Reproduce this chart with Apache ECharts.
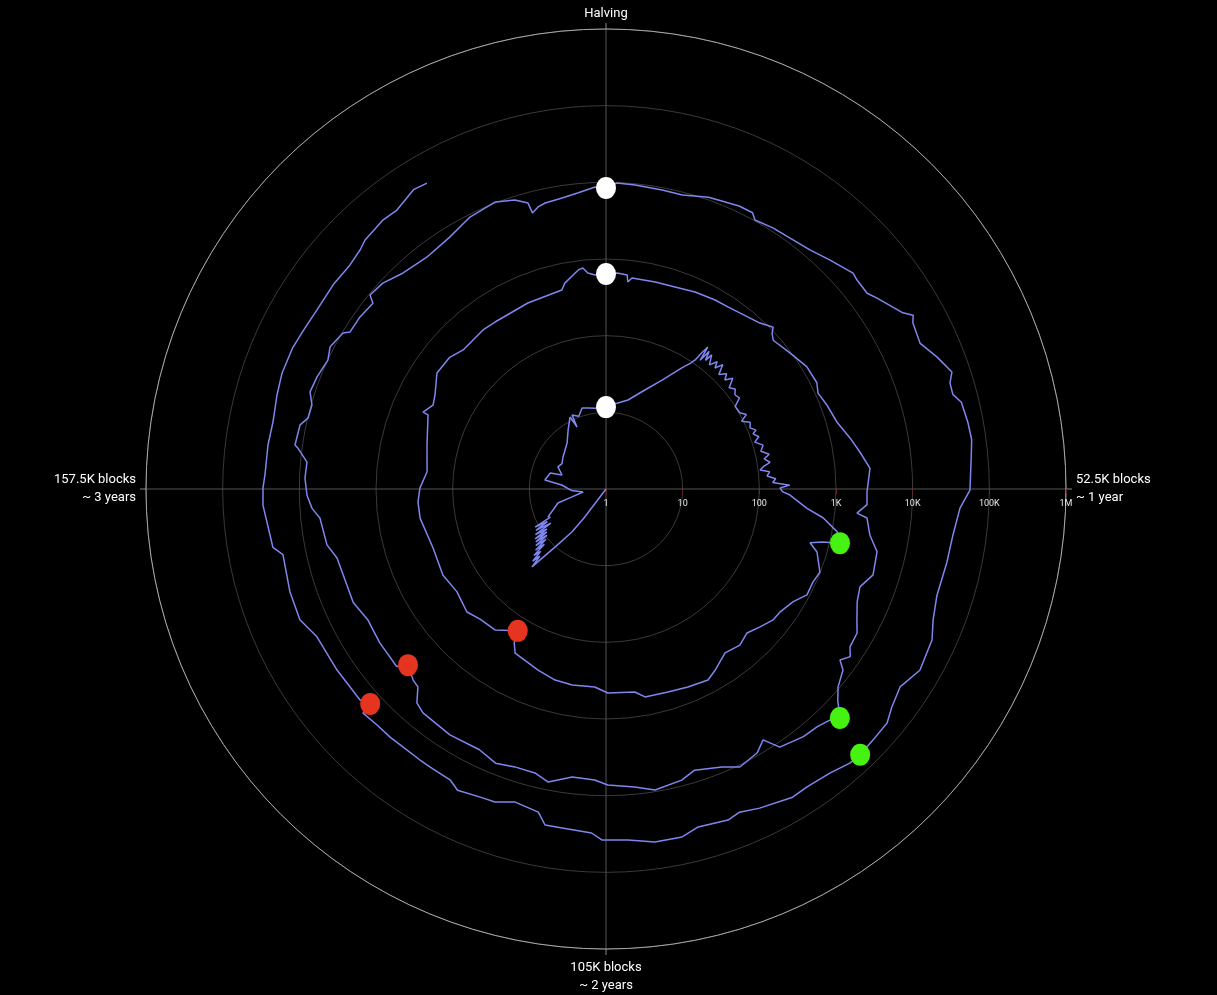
<!DOCTYPE html>
<html><head><meta charset="utf-8">
<style>html,body{margin:0;padding:0;background:#000;}#c{width:1217px;height:995px;}</style>
<script src="https://cdn.jsdelivr.net/npm/echarts@6/dist/echarts.min.js"></script>
</head><body><div id="c"></div>
<script>
// Radial (log) tick labels and angle labels
const radiusTicks = ['1', '10', '100', '1K', '10K', '100K', '1M'];
const angleTicks = [0, 52500, 105000, 157500];
const angleTickLabels = ['Halving', '52.5K blocks\n~ 1 year', '105K blocks\n~ 2 years', '157.5K blocks\n~ 3 years'];

// [blocks since halving, price USD]
const cycle1 = [[126000,1.0],[126700,2.9],[127400,5.2],[129100,10.2],[130400,25.2],[131000,17],[131500,22],[132000,15],[132600,19],[133100,12],[133600,16.5],[134200,10.5],[134800,15],[135300,9.5],[135900,14],[136500,9],[137000,13.5],[137600,8.5],[138300,12.5],[139000,7],[139700,11.5],[140500,7.5],[141000,11.2],[141800,6.5],[142500,6.9],[145000,5.5],[148000,4.5],[149800,2.9],[153200,2.0],[156000,2.8],[160500,3.8],[162400,6.4],[166800,5.7],[167800,4.0],[171900,4.9],[175000,4.6],[178900,5.0],[182500,5.4],[186500,6.1],[190900,8.2],[194500,11.2],[195400,7.8],[195600,11.5],[198000,10.3],[200400,12.6],[203000,12.0],[205500,11.6],[210000,11.7]];
const cycle2 = [[0,11.7],[4600,13.6],[8100,15.7],[12500,24.4],[15900,39.6],[18700,73],[19800,95],[20200,111],[20500,150],[20800,190],[21100,120],[21500,175],[22000,132],[22300,169],[23200,128],[24000,160],[24500,133],[25200,168],[26000,125],[27000,150],[27700,127],[28500,157],[29500,120],[30500,135],[31400,121],[32500,128],[33500,100],[35200,102],[36200,118],[37000,95],[38000,118],[39100,110],[40000,126],[40500,112],[41500,128],[42300,108],[43400,134],[44500,120],[45500,150],[46200,126],[47100,147],[47800,118],[48400,106],[49000,140],[49800,128],[50500,165],[51200,150],[51800,250],[52300,186],[53000,200],[53600,252],[55700,430],[56900,717],[58600,1161],[60100,1358],[60500,820],[61100,565],[62200,745],[64900,986],[66600,913],[68700,917],[70600,708],[73100,601],[74700,587],[76900,498],[79100,425],[81300,481],[84000,439],[86800,570],[88600,667],[91900,624],[95100,587],[98800,575],[100300,473],[104700,458],[106900,386],[110700,393],[113700,379],[117000,333],[121900,280],[123000,216],[123600,151],[127300,219],[130700,230],[133300,264],[137300,230],[141300,254],[146500,242],[152300,285],[155200,287],[157700,267],[160700,221],[165600,254],[170700,327],[170800,388],[172600,322],[174300,351],[177600,472],[180900,463],[183300,399],[188000,419],[190400,412],[196700,428],[202700,455],[203400,548],[205800,759],[206500,791],[207200,671],[208300,624],[210000,637]];
const cycle3 = [[0,637],[1700,662],[3300,637],[3500,519],[4100,593],[7800,595],[11000,609],[14200,661],[17500,702],[19700,721],[21800,768],[25000,897],[26800,1084],[27300,936],[28200,830],[31200,965],[34200,1165],[36900,1202],[38300,1084],[40400,1213],[43100,1371],[45600,1785],[47700,2229],[49900,2844],[52900,2537],[54500,2575],[55700,1942],[56200,2661],[58300,3131],[60100,4255],[62900,4560],[64800,3550],[66600,3900],[68600,4930],[69900,5960],[71700,6190],[72600,7310],[73600,6030],[74300,7760],[76100,9510],[77200,12300],[78400,18600],[79300,15700],[80700,14060],[82500,13500],[85200,11460],[86300,7260],[87600,9250],[90000,10600],[91800,8490],[94800,7000],[96500,8380],[99600,9510],[101800,8040],[104800,7260],[106300,6280],[108900,6060],[111500,7870],[113200,6570],[115600,6530],[117800,7170],[120100,6030],[123900,6300],[127900,5920],[129200,5290],[130400,3640],[131400,3480],[133200,2860],[134000,3800],[136000,3700],[137500,3700],[139300,3560],[140700,3500],[143400,4110],[149100,4190],[150900,5150],[154100,5620],[155300,6960],[156800,7960],[158700,8490],[160500,8240],[161900,11300],[162200,12500],[164400,11950],[165300,9890],[166800,9750],[168100,11560],[169900,11020],[172000,9950],[173400,11170],[175400,9750],[175900,8260],[177900,8240],[180000,7730],[180500,9660],[182400,9120],[184800,7340],[188000,6630],[191400,7340],[194500,9250],[197700,10300],[199800,8960],[201100,7340],[201300,5330],[202100,6080],[203000,6510],[205000,6900],[206800,7550],[208800,8750],[210000,8440]];
const cycle4 = [[0,8440],[1200,9860],[3200,9620],[6200,9290],[8500,9140],[11300,10820],[14700,12000],[16300,12000],[16900,10250],[19000,11020],[23600,12540],[25900,15060],[28500,19010],[29300,18200],[31000,18070],[32000,21080],[34600,31800],[35300,40090],[35900,35660],[38000,32880],[39800,44360],[41600,57940],[42500,49550],[43600,48870],[44500,59000],[46400,63000],[48000,65000],[49400,61000],[52600,55900],[54300,42070],[56900,36730],[59600,35320],[62900,34200],[65200,39360],[67000,48550],[70000,53330],[72300,42070],[74300,49000],[75700,58880],[77700,60260],[79500,62700],[80700,61000],[82700,52200],[85200,48700],[86800,50100],[90000,41680],[91900,36400],[93200,39990],[96100,37070],[97800,44260],[100400,44560],[102900,38650],[105400,37860],[106400,30970],[109300,28710],[111000,28450],[111900,20200],[114500,17870],[116400,21480],[117700,21780],[120300,24050],[121400,20270],[123800,19540],[125100,19370],[127300,19140],[128900,19500],[130700,19450],[132600,20460],[132800,14500],[133800,16870],[137700,16930],[141700,17180],[144000,21980],[147000,21650],[150800,19950],[151700,25760],[152900,26480],[155900,30130],[157600,29790],[158900,28310],[161800,27930],[164200,26970],[166800,29040],[169000,30760],[171700,30400],[173900,28380],[176100,27210],[179000,27870],[181500,27350],[183300,29790],[184300,33040],[186800,36060],[188500,35240],[189900,39630],[190900,43850],[192300,42070]];

const halvingDots = [[0,11.7],[0,637],[0,8440]];
const peakDots = [[60100,1358],[78400,18600],[79500,62700]];
const bottomDots = [[123600,151],[133200,2860],[132800,14500]];

const toPolar = arr => arr.map(d => [d[1], d[0]]);
const lineColor = '#7f86ee';
const center = [606, 489], R = 460;
const FONT = 'Roboto';

const chart = echarts.init(document.getElementById('c'), null, {renderer: 'canvas'});
const lineSeries = [cycle1, cycle2, cycle3, cycle4].map((c, i) => ({
  type: 'line', coordinateSystem: 'polar', polarIndex: 0, name: 'cycle' + (i + 1),
  data: toPolar(c), showSymbol: false, symbol: 'none', smooth: false,
  lineStyle: {color: lineColor, width: 1.5}, z: 3, silent: true
}));
const dotSeries = [[halvingDots, '#ffffff'], [peakDots, '#46f212'], [bottomDots, '#e5341f']].map(([d, col]) => ({
  type: 'scatter', coordinateSystem: 'polar', polarIndex: 0,
  data: toPolar(d), symbol: 'circle', symbolSize: [20, 22],
  itemStyle: {color: col, opacity: 1}, z: 5, silent: true
}));

chart.setOption({
  backgroundColor: '#000',
  animation: false,
  polar: [{center: center, radius: R}, {center: center, radius: R}],
  angleAxis: [{
    polarIndex: 0, type: 'value', min: 0, max: 210000, interval: 52500,
    startAngle: 90, clockwise: true,
    axisLine: {show: true, lineStyle: {color: '#a8a8a8', width: 1}},
    axisTick: {show: true, length: 6, lineStyle: {color: '#888'}},
    splitLine: {show: true, lineStyle: {color: '#555', width: 1}},
    axisLabel: {
      show: true, color: '#fff', fontSize: 13, fontFamily: FONT, margin: 10, lineHeight: 18,
      formatter: v => {
        const i = angleTicks.indexOf(v);
        if (i < 0) return '';
        return i === 0 ? '{t|' + angleTickLabels[0] + '}' : angleTickLabels[i];
      },
      rich: {t: {color: '#fff', fontSize: 13, fontFamily: FONT, lineHeight: 10}}
    }
  }, {
    polarIndex: 1, type: 'value', min: 0, max: 360, startAngle: 0, show: false,
    axisLine: {show: false}, splitLine: {show: false}, axisTick: {show: false}, axisLabel: {show: false}
  }],
  radiusAxis: [{
    polarIndex: 0, type: 'log', logBase: 10, min: 1, max: 1000000,
    axisLine: {show: false}, axisTick: {show: false}, axisLabel: {show: false},
    splitLine: {show: true, lineStyle: {color: '#3a3a3a', width: 1}}
  }, {
    polarIndex: 1, type: 'log', logBase: 10, min: 1, max: 1000000,
    axisLine: {show: false},
    axisTick: {show: true, length: -5, lineStyle: {color: '#7a1d1d', width: 1}},
    splitLine: {show: false},
    axisLabel: {
      show: true, color: '#e8e8e8', fontSize: 9, fontFamily: FONT, margin: -10, verticalAlign: 'top',
      formatter: v => radiusTicks[Math.round(Math.log10(v))] || ''
    }
  }],
  series: [...lineSeries, ...dotSeries]
});
</script>
</body></html>
